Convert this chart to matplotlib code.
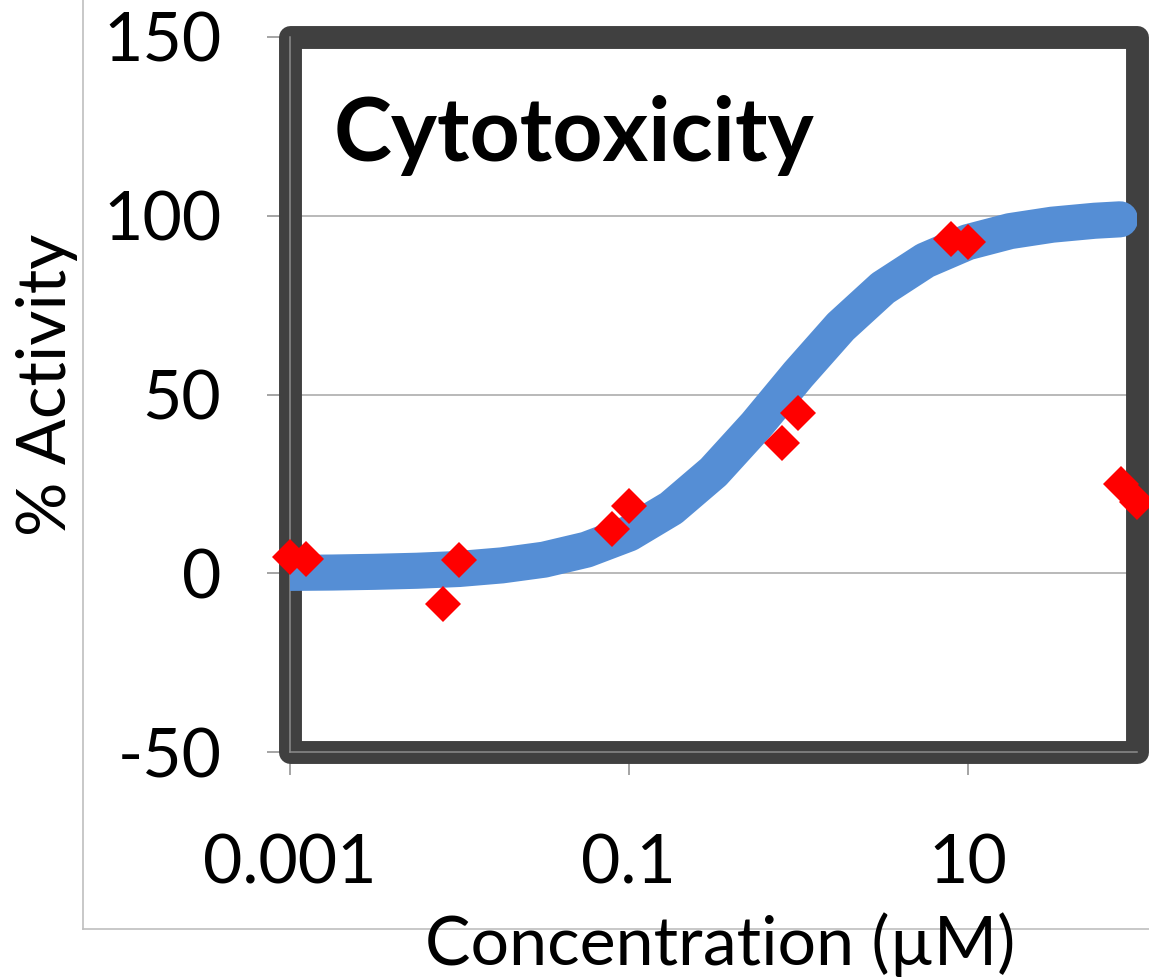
import numpy as np
import matplotlib
matplotlib.use("Agg")
import matplotlib.pyplot as plt
from matplotlib.patches import Rectangle
from matplotlib.lines import Line2D

plt.rcParams['font.family'] = ['Lato', 'DejaVu Sans']

# measured points (conc in uM, % activity)
conc = [0.001, 0.00125, 0.008, 0.01, 0.08, 0.1, 0.8, 1.0, 8, 10, 80, 100]
activity = [4.6, 4.0, -8.5, 3.8, 12.4, 18.9, 36.5, 44.9, 93.6, 92.7, 25, 20]

# fitted curve
fit_conc = [0.001, 0.00178, 0.00316, 0.00562, 0.01, 0.0178, 0.0316, 0.0562,
            0.1, 0.178, 0.316, 0.562, 1.0, 1.78, 3.16, 5.62, 10, 17.8, 31.6,
            56.2, 79.4]
fit_act = [0.1, 0.2, 0.4, 0.7, 1.2, 2.2, 3.8, 6.6, 11.1, 18.2, 28.3, 41.3,
           55.6, 69.0, 79.8, 87.5, 92.6, 95.7, 97.5, 98.6, 99.0]

xticks = [0.001, 0.1, 10]
xticklabels = ['0.001', '0.1', '10']
yticks = [-50, 0, 50, 100, 150]
yticklabels = ['-50', '0', '50', '100', '150']

W, H = 1149, 980
fig = plt.figure(figsize=(W / 100, H / 100), dpi=100)

# light chart-area border
fig.add_artist(Line2D([83 / W, 83 / W], [1, 1 - 929 / H], color='#bfbfbf', lw=1.2))
fig.add_artist(Line2D([83 / W, 1], [1 - 929 / H, 1 - 929 / H], color='#bfbfbf', lw=1.2))

ax = fig.add_axes([290 / W, 1 - 752 / H, (1137 - 290) / W, (752 - 37) / H])
ax.set_xscale('log')
ax.set_xlim(0.001, 100)
ax.set_ylim(-50, 150)

ax.set_xticks(xticks)
ax.set_xticklabels(xticklabels)
ax.xaxis.set_minor_locator(matplotlib.ticker.NullLocator())
ax.set_yticks(yticks)
ax.set_yticklabels(yticklabels)

grey = '#8c8c8c'
ax.tick_params(axis='both', direction='out', length=16.5, width=1.1, color=grey,
               labelsize=49, labelcolor='black')
ax.tick_params(axis='x', pad=42)
ax.tick_params(axis='y', pad=33)

ax.grid(axis='y', color='#a6a6a6', lw=1.1)
ax.set_axisbelow(True)

for s in ['top', 'right']:
    ax.spines[s].set_visible(False)
for s in ['left', 'bottom']:
    ax.spines[s].set_color(grey)
    ax.spines[s].set_linewidth(1.1)
    ax.spines[s].set_zorder(2.6)

frame = Rectangle((0, 0), 1, 1, transform=ax.transAxes, fill=False,
                  ec='#404040', lw=16.5, joinstyle='round', clip_on=False, zorder=2.5)
ax.add_patch(frame)

ax.plot(fit_conc, fit_act, color='#558ed5', lw=26, solid_capstyle='round',
        solid_joinstyle='round', zorder=3)
ax.plot(conc, activity, 'D', color='red', ms=18, mew=0, clip_on=False, zorder=4)

fig.text(334 / W, 1 - 161 / H, 'Cytotoxicity', fontsize=63, fontweight='bold',
         ha='left', va='baseline')
fig.text(425 / W, 1 - 965 / H, 'Concentration (\u00b5M)', fontsize=49,
         ha='left', va='baseline')
fig.text(78 / W, 1 - 385 / H, '% Activity', fontsize=49, rotation=90,
         ha='right', va='center')

fig.savefig('out.png', dpi=100)
